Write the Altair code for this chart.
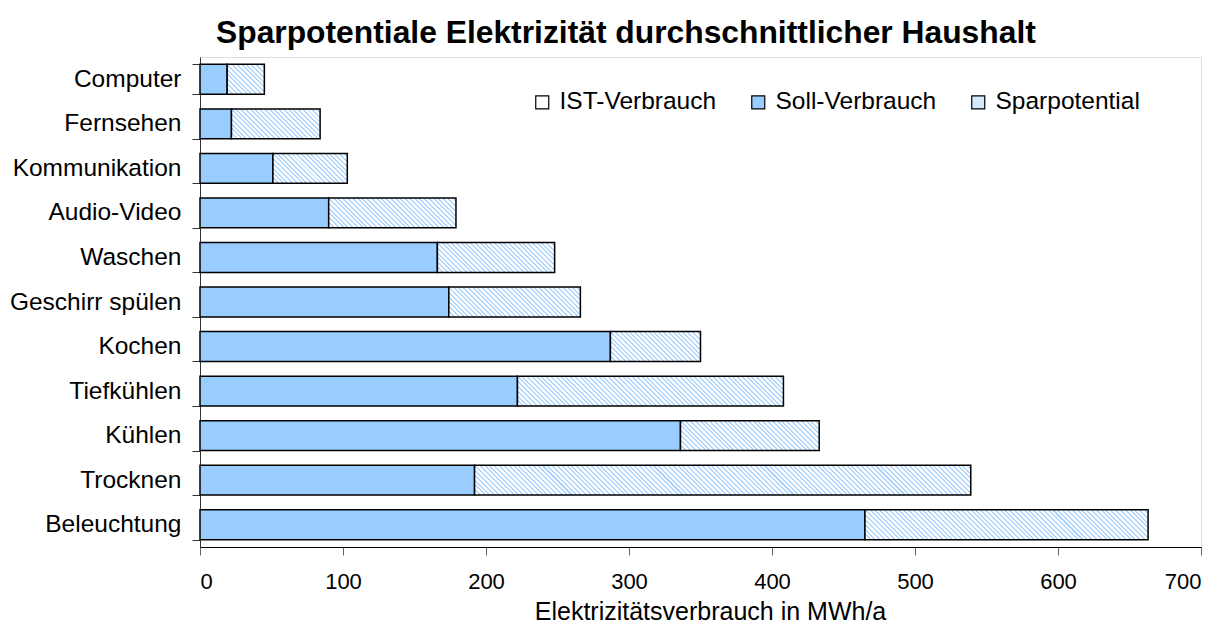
import math
import altair as alt

# --- data ---
kategorien = ["Computer", "Fernsehen", "Kommunikation", "Audio-Video", "Waschen",
              "Geschirr spülen", "Kochen", "Tiefkühlen", "Kühlen", "Trocknen", "Beleuchtung"]
soll_verbrauch = [19, 22, 51, 90, 166, 174, 287, 222, 336, 192, 465]
ist_verbrauch = [45, 84, 103, 179, 248, 266, 350, 408, 433, 539, 663]
serien = ["IST-Verbrauch", "Soll-Verbrauch", "Sparpotential"]
x_ticks = [0, 100, 200, 300, 400, 500, 600, 700]

FONT = "Liberation Sans"
PLOT_W, PLOT_H = 1001, 490
X_MAX = 700
BLUE = "#99ccff"
HATCH = "#b0d6fd"


def hatch_gradient(width_px, height_px, period=3.4, duty=0.42):
    """Diagonal (top-left to bottom-right) stripes as a linear gradient in bbox units."""
    w, h = max(width_px, 1.0), height_px
    s = (w + h) / (w * w + h * h)
    n = max(1, int(round((w + h) / math.sqrt(2) / period)))
    stops = []
    for k in range(n):
        a, m, b = k / n, (k + duty) / n, (k + 1) / n
        stops += [{"offset": a, "color": HATCH}, {"offset": m, "color": HATCH},
                  {"offset": m, "color": "#ffffff"}, {"offset": b, "color": "#ffffff"}]
    return {"gradient": "linear", "x1": 0, "y1": 1, "x2": w * s, "y2": 1 - h * s,
            "stops": stops}


band_h = PLOT_H / len(kategorien) * 0.67
soll_rows = [{"Kategorie": k, "Serie": "Soll-Verbrauch", "start": 0, "end": s}
             for k, s in zip(kategorien, soll_verbrauch)]
spar_rows = [{"Kategorie": k, "Serie": "Sparpotential", "start": s, "end": i,
              "grad": hatch_gradient((i - s) * PLOT_W / X_MAX, band_h)}
             for k, s, i in zip(kategorien, soll_verbrauch, ist_verbrauch)]

y_enc = alt.Y(
    "Kategorie:N",
    sort=kategorien,
    scale=alt.Scale(paddingInner=0.33, paddingOuter=0.165),
    axis=alt.Axis(
        title=None, tickBand="extent", labelFontSize=24.5, labelColor="black",
        labelPadding=11, tickSize=8, tickColor="#333", domainColor="#333",
        labelFont=FONT,
    ),
)
x_enc = alt.X(
    "start:Q",
    scale=alt.Scale(domain=[0, X_MAX], nice=False),
    axis=alt.Axis(
        values=x_ticks, title="Elektrizitätsverbrauch in MWh/a", grid=False,
        labelFontSize=22, labelColor="black", labelPadding=16, tickSize=8,
        tickColor="#666", domainColor="black", titleFontSize=25,
        titleFontWeight="normal", titleColor="black", titleBaseline="alphabetic",
        titleY=72, titleX=510, titleAlign="center",
        labelFont=FONT, titleFont=FONT,
    ),
)

soll_layer = alt.Chart(alt.Data(values=soll_rows)).mark_bar(
    stroke="black", strokeWidth=1.5
).encode(
    y=y_enc,
    x=x_enc,
    x2="end:Q",
    fill=alt.Fill(
        "Serie:N",
        scale=alt.Scale(domain=serien, range=["white", BLUE, "#d3e9fe"]),
        legend=alt.Legend(
            title=None, orient="none", direction="horizontal", legendX=330, legendY=33,
            symbolType="square", symbolSize=169, symbolStrokeColor="black",
            symbolStrokeWidth=1.2, labelFontSize=24.5, labelFont=FONT, labelColor="black",
            labelOffset=5, columnPadding=29, padding=0, labelLimit=400,
        ),
    ),
)

spar_layer = alt.Chart(alt.Data(values=spar_rows)).mark_bar(
    stroke="black", strokeWidth=1.5
).encode(
    y=alt.Y("Kategorie:N", sort=kategorien),
    x=alt.X("start:Q"),
    x2="end:Q",
    fill=alt.Fill("grad:N", scale=None),
)

chart = alt.layer(soll_layer, spar_layer).properties(
    width=PLOT_W,
    height=PLOT_H,
    autosize=alt.AutoSizeParams(type="none"),
    padding={"left": 192, "top": 49, "right": 22, "bottom": 79},
    title=alt.TitleParams(
        "Sparpotentiale Elektrizität durchschnittlicher Haushalt",
        font=FONT, fontSize=31.8, fontWeight="bold", color="black",
        anchor="start", frame="group", dx=16, dy=14, offset=8,
    ),
).configure_view(stroke=None).configure(font=FONT)

chart.save("out.html", embed_options={"renderer": "svg", "actions": False})
